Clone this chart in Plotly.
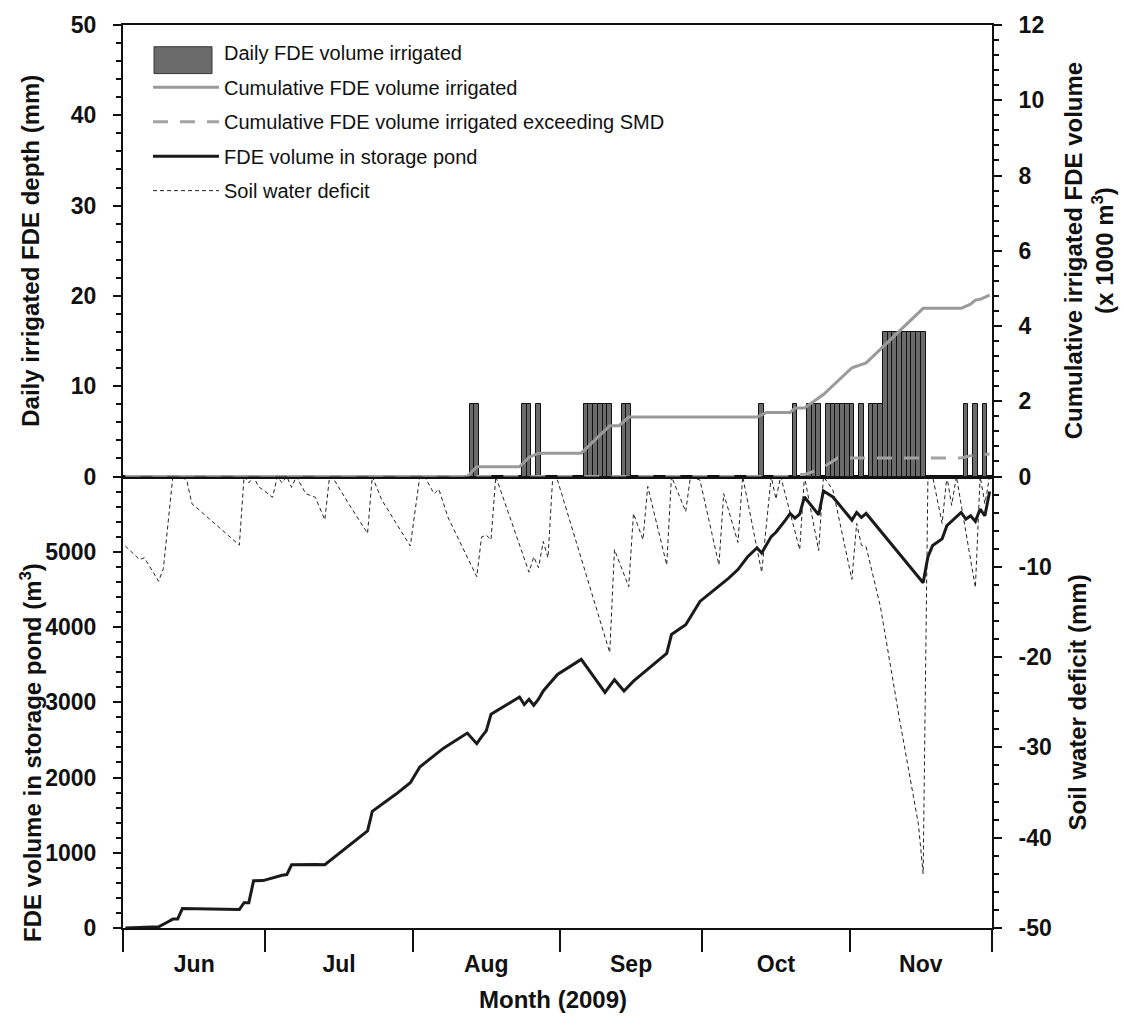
import plotly.graph_objects as go

# ---------------- data ----------------
bar_dates = ["2009-08-13", "2009-08-14", "2009-08-24", "2009-08-25", "2009-08-27",
             "2009-09-06", "2009-09-07", "2009-09-08", "2009-09-09", "2009-09-10", "2009-09-11",
             "2009-09-14", "2009-09-15", "2009-10-13", "2009-10-20",
             "2009-10-23", "2009-10-24", "2009-10-25",
             "2009-10-27", "2009-10-28", "2009-10-29", "2009-10-30", "2009-10-31", "2009-11-01",
             "2009-11-03", "2009-11-05", "2009-11-06", "2009-11-07",
             "2009-11-08", "2009-11-09", "2009-11-10", "2009-11-11", "2009-11-12",
             "2009-11-13", "2009-11-14", "2009-11-15", "2009-11-16",
             "2009-11-25", "2009-11-27", "2009-11-29"]
bar_depth_mm = [8, 8, 8, 8, 8,
                8, 8, 8, 8, 8, 8,
                8, 8, 8, 8,
                8, 8, 8,
                8, 8, 8, 8, 8, 8,
                8, 8, 8, 8,
                16, 16, 16, 16, 16,
                16, 16, 16, 16,
                8, 8, 8]

cum_dates = ["2009-06-01", "2009-08-12", "2009-08-14", "2009-08-23", "2009-08-25", "2009-08-27",
             "2009-09-05", "2009-09-11", "2009-09-13", "2009-09-15", "2009-10-12", "2009-10-14",
             "2009-10-19", "2009-10-20", "2009-10-22", "2009-10-26", "2009-11-01", "2009-11-03",
             "2009-11-04", "2009-11-16", "2009-11-24", "2009-11-26", "2009-11-27", "2009-11-28",
             "2009-11-30"]
cum_volume_k = [0, 0, 0.26, 0.26, 0.51, 0.62,
                0.62, 1.35, 1.35, 1.58, 1.58, 1.70,
                1.70, 1.82, 1.82, 2.18, 2.89, 2.97,
                3.02, 4.47, 4.47, 4.58, 4.69, 4.71,
                4.82]

exc_dates = ["2009-06-01", "2009-10-19", "2009-10-20", "2009-10-22", "2009-10-24", "2009-10-26",
             "2009-10-29", "2009-11-24", "2009-11-26", "2009-11-30"]
exc_volume_k = [0, 0, 0.05, 0.05, 0.14, 0.25,
                0.49, 0.49, 0.55, 0.60]

pond_dates = ["2009-06-01", "2009-06-08", "2009-06-10", "2009-06-11", "2009-06-12", "2009-06-13",
              "2009-06-25", "2009-06-26", "2009-06-27", "2009-06-28", "2009-06-30", "2009-07-01",
              "2009-07-04", "2009-07-05", "2009-07-06", "2009-07-11", "2009-07-13", "2009-07-22",
              "2009-07-23", "2009-07-28", "2009-07-31", "2009-08-02", "2009-08-05", "2009-08-07",
              "2009-08-12", "2009-08-14", "2009-08-15", "2009-08-16", "2009-08-17", "2009-08-20",
              "2009-08-23", "2009-08-24", "2009-08-25", "2009-08-26", "2009-08-27", "2009-08-28",
              "2009-08-30", "2009-08-31", "2009-09-05", "2009-09-10", "2009-09-12", "2009-09-14",
              "2009-09-16", "2009-09-19", "2009-09-23", "2009-09-24", "2009-09-27", "2009-09-30",
              "2009-10-04", "2009-10-06", "2009-10-08", "2009-10-10", "2009-10-12", "2009-10-13",
              "2009-10-15", "2009-10-16", "2009-10-18", "2009-10-19", "2009-10-20", "2009-10-21",
              "2009-10-22", "2009-10-25", "2009-10-26", "2009-10-28", "2009-11-01", "2009-11-02",
              "2009-11-03", "2009-11-04", "2009-11-16", "2009-11-17", "2009-11-18", "2009-11-20",
              "2009-11-21", "2009-11-22", "2009-11-24", "2009-11-25", "2009-11-26", "2009-11-27",
              "2009-11-28", "2009-11-29", "2009-11-30"]
pond_volume_m3 = [0, 15, 83, 118, 118, 258,
                  245, 337, 337, 628, 630, 650,
                  700, 710, 840, 845, 840, 1290,
                  1550, 1780, 1930, 2140, 2290, 2390,
                  2590, 2450, 2540, 2620, 2840, 2960,
                  3070, 2970, 3040, 2960, 3040, 3150,
                  3290, 3370, 3570, 3130, 3300, 3150,
                  3280, 3440, 3650, 3900, 4030, 4340,
                  4535, 4645, 4763, 4930, 5052, 4983,
                  5201, 5259, 5421, 5509, 5447, 5500,
                  5728, 5491, 5807, 5728, 5421, 5522,
                  5456, 5509, 4588, 4930, 5083, 5171,
                  5346, 5404, 5522, 5434, 5478, 5404,
                  5566, 5478, 5800]

swd_dates = ["2009-06-01", "2009-06-04", "2009-06-05", "2009-06-08", "2009-06-09", "2009-06-11",
             "2009-06-13", "2009-06-14", "2009-06-15", "2009-06-25", "2009-06-26", "2009-06-27",
             "2009-06-28", "2009-06-29", "2009-07-02", "2009-07-03", "2009-07-04", "2009-07-05",
             "2009-07-06", "2009-07-07", "2009-07-09", "2009-07-11", "2009-07-13", "2009-07-14",
             "2009-07-15", "2009-07-18", "2009-07-22", "2009-07-23", "2009-07-25", "2009-07-31",
             "2009-08-02", "2009-08-03", "2009-08-05", "2009-08-06", "2009-08-08", "2009-08-14",
             "2009-08-15", "2009-08-16", "2009-08-17", "2009-08-18", "2009-08-25", "2009-08-26",
             "2009-08-27", "2009-08-28", "2009-08-29", "2009-08-30", "2009-08-31", "2009-09-11",
             "2009-09-12", "2009-09-15", "2009-09-16", "2009-09-18", "2009-09-19", "2009-09-23",
             "2009-09-24", "2009-09-27", "2009-09-28", "2009-09-30", "2009-10-04", "2009-10-05",
             "2009-10-08", "2009-10-09", "2009-10-13", "2009-10-15", "2009-10-16", "2009-10-17",
             "2009-10-21", "2009-10-22", "2009-10-25", "2009-10-26", "2009-10-28", "2009-11-01",
             "2009-11-02", "2009-11-03", "2009-11-04", "2009-11-07", "2009-11-11", "2009-11-15",
             "2009-11-16", "2009-11-17", "2009-11-18", "2009-11-20", "2009-11-21", "2009-11-22",
             "2009-11-23", "2009-11-27", "2009-11-28", "2009-11-29", "2009-11-30"]
swd_mm = [-7.7, -9.2, -9.0, -11.6, -10.2, 0,
          0, -0.6, -3.0, -7.6, 0, -0.7,
          0, -1.1, -2.3, 0, -0.7, 0,
          -1.2, 0, -1.9, -2.3, -4.8, 0,
          -0.4, -3.0, -6.3, 0, -2.6, -7.7,
          0, 0, -1.9, -1.4, -4.6, -11.1,
          -6.7, -6.5, -7.0, 0, -10.6, -8.9,
          -10.1, -7.2, -9.0, 0, -0.4, -19.5,
          -8.1, -12.2, -4.1, -7.0, -1.1, -9.8,
          0, -3.9, 0, -0.4, -9.8, -1.9,
          -7.3, 0, -10.6, 0, -2.5, 0,
          -8.1, 0, -8.2, 0, -1.5, -11.4,
          -5.2, -7.6, -7.8, -14.4, -26.8, -38.5,
          -44.0, -0.3, 0, -5.2, 0, -3.2,
          0, -12.3, 0, -3.0, 0]

x_range = ["2009-06-01", "2009-12-01"]
depth_ticks = [0, 10, 20, 30, 40, 50]
cum_ticks = [0, 2, 4, 6, 8, 10, 12]
pond_ticks = [0, 1000, 2000, 3000, 4000, 5000]
swd_ticks = [-50, -40, -30, -20, -10]
swd_tick_text = ["-50", "-40", "-30", "-20", "-10"]

# ---------------- figure ----------------
FONT = "Liberation Sans, Arial, Helvetica, sans-serif"
DAY_MS = 86400000
tickfont = dict(family=FONT, size=23, color="#111", weight="bold")
titlefont = dict(family=FONT, size=24, color="#111", weight="bold")
BAR_FILL = "#6b6b6b"

fig = go.Figure()

fig.add_trace(go.Bar(
    x=bar_dates, y=bar_depth_mm, xaxis="x2", yaxis="y2",
    xperiod=DAY_MS, xperiodalignment="middle", width=DAY_MS,
    marker=dict(color=BAR_FILL, line=dict(color="#111", width=1)),
    name="Daily FDE volume irrigated", showlegend=False))

# legend entry for the bars (its wide swatch is drawn as a legend-key shape below)
fig.add_trace(go.Scatter(
    x=[None], y=[None], xaxis="x2", yaxis="y2", mode="lines",
    line=dict(color="rgba(0,0,0,0)", width=1),
    name="Daily FDE volume irrigated", legendgroup="g1"))

fig.add_trace(go.Scatter(
    x=cum_dates, y=cum_volume_k, xaxis="x2", yaxis="y4", mode="lines",
    xperiod=DAY_MS, xperiodalignment="middle",
    line=dict(color="#9a9a9a", width=3),
    name="Cumulative FDE volume irrigated", legendgroup="g2"))

fig.add_trace(go.Scatter(
    x=exc_dates, y=exc_volume_k, xaxis="x2", yaxis="y4", mode="lines",
    xperiod=DAY_MS, xperiodalignment="middle",
    line=dict(color="#a3a3a3", width=3, dash="15px,12px"),
    name="Cumulative FDE volume irrigated exceeding SMD", legendgroup="g3"))

fig.add_trace(go.Scatter(
    x=pond_dates, y=pond_volume_m3, xaxis="x", yaxis="y", mode="lines",
    xperiod=DAY_MS, xperiodalignment="middle",
    line=dict(color="#1a1a1a", width=3),
    name="FDE volume in storage pond", legendgroup="g4"))

fig.add_trace(go.Scatter(
    x=swd_dates, y=swd_mm, xaxis="x", yaxis="y3", mode="lines",
    xperiod=DAY_MS, xperiodalignment="middle",
    line=dict(color="#222", width=1, dash="4px,3px"),
    name="Soil water deficit", legendgroup="g5"))

yax_common = dict(showgrid=False, zeroline=False, showline=True, linecolor="#111", linewidth=2,
                  ticks="outside", ticklen=8, tickwidth=2, tickcolor="#111",
                  tickfont=tickfont, ticklabelstandoff=12)


def minor(step):
    return dict(tickmode="linear", tick0=0, dtick=step, ticks="outside",
                ticklen=5, tickwidth=1.5, tickcolor="#111", showgrid=False)


fig.update_layout(
    width=1124, height=1028,
    margin=dict(l=123, r=132, t=17, b=100),
    paper_bgcolor="white", plot_bgcolor="white",
    bargap=0,
    showlegend=True,
    legend=dict(x=0.0288, y=0.991, xanchor="left", yanchor="top",
                font=dict(family=FONT, size=20, color="#111"),
                bgcolor="rgba(0,0,0,0)", itemwidth=66, tracegroupgap=5.5,
                traceorder="grouped"),
    xaxis=dict(type="date", range=x_range, domain=[0, 1], anchor="y",
               tick0="2009-06-01", dtick="M1", ticklabelmode="period", tickformat="%b",
               ticks="outside", ticklen=22, tickwidth=2, tickcolor="#111",
               ticklabelstandoff=-8,
               showline=True, linecolor="#111", linewidth=2, mirror=True,
               showgrid=False, zeroline=False, tickfont=tickfont, layer="below traces"),
    xaxis2=dict(type="date", range=x_range, domain=[0, 1], anchor="y2", matches="x",
                showticklabels=False, ticks="", showline=True, linecolor="#111",
                linewidth=2, mirror=True, showgrid=False, zeroline=False,
                layer="below traces"),
    yaxis=dict(domain=[0, 0.5], range=[0, 6000], anchor="x", side="left",
               tickmode="array", tickvals=pond_ticks, minor=minor(200), **yax_common),
    yaxis3=dict(range=[-50, 0], overlaying="y", anchor="x", side="right",
                tickmode="array", tickvals=swd_ticks, ticktext=swd_tick_text,
                minor=minor(2), **yax_common),
    yaxis2=dict(domain=[0.5, 1], range=[0, 50], anchor="x2", side="left",
                tickmode="array", tickvals=depth_ticks, minor=minor(2), **yax_common),
    yaxis4=dict(range=[0, 12], overlaying="y2", anchor="x2", side="right",
                tickmode="array", tickvals=cum_ticks, minor=minor(0.4), **yax_common),
)

# legend key swatch for the daily bars (wide outlined box, as in the original legend)
fig.add_shape(type="rect", xref="paper", yref="paper",
              x0=0.0357, x1=0.1024, y0=0.9462, y1=0.9759,
              fillcolor=BAR_FILL, line=dict(color="#333", width=1))

annots = [
    dict(text="Daily irrigated FDE depth (mm)", x=-0.1059, y=0.75, textangle=-90),
    dict(text="FDE volume in storage pond (m<sup>3</sup>)", x=-0.1059, y=0.195, textangle=-90),
    dict(text="Cumulative irrigated FDE volume<br>(x 1000 m<sup>3</sup>)", x=1.111, y=0.75, textangle=-90),
    dict(text="Soil water deficit (mm)", x=1.098, y=0.25, textangle=-90),
    dict(text="Month (2009)", x=0.495, y=-0.079, textangle=0),
]
for a in annots:
    fig.add_annotation(xref="paper", yref="paper", showarrow=False,
                       xanchor="center", yanchor="middle", font=titlefont, **a)

fig.write_html("out.html")
